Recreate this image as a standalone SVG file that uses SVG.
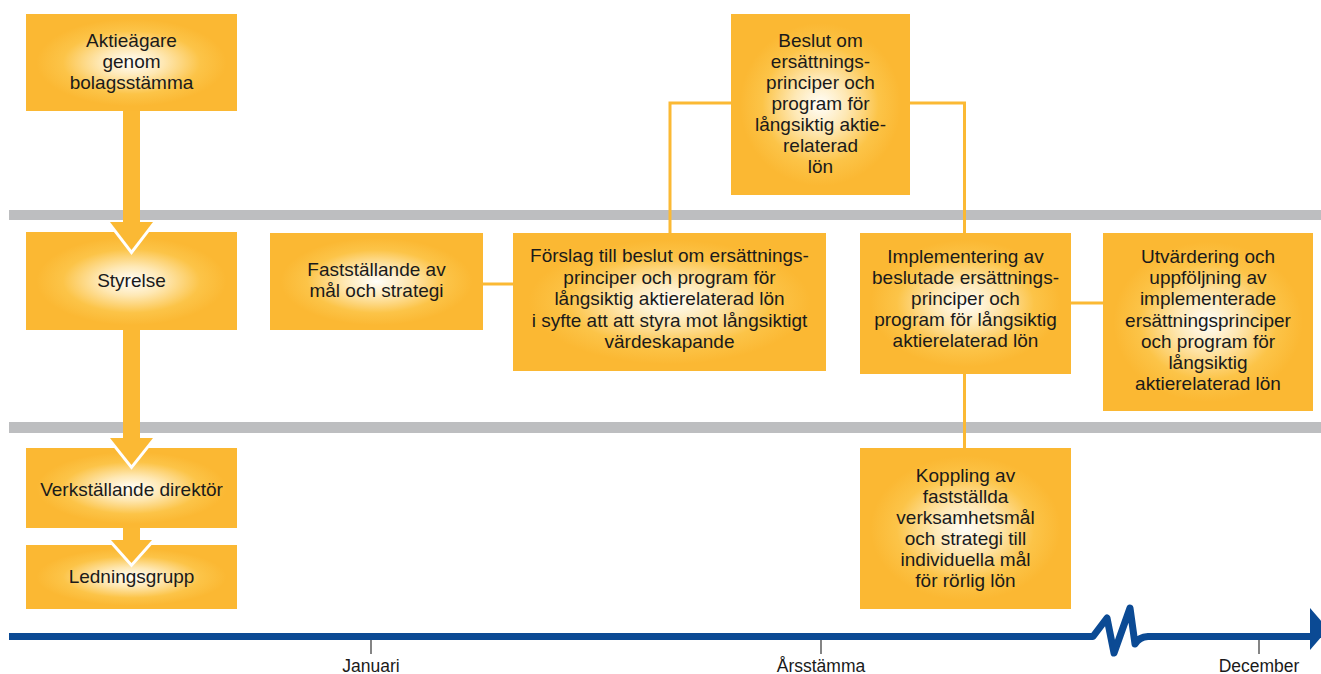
<svg xmlns="http://www.w3.org/2000/svg" width="1321" height="674" viewBox="0 0 1321 674">
  <defs>
    <radialGradient id="boxFill" cx="0.5" cy="0.5" r="0.5">
      <stop offset="0" stop-color="#fffefa"/>
      <stop offset="0.3" stop-color="#fee8b4"/>
      <stop offset="0.65" stop-color="#fcc448"/>
      <stop offset="0.9" stop-color="#fbb833"/>
      <stop offset="1" stop-color="#fbb833"/>
    </radialGradient>
    <style>
      .box { fill: url(#boxFill); }
      .t { font-family: "Liberation Sans", Arial, sans-serif; font-size: 19px; fill: #1a1a1a; text-anchor: middle; }
      .tl { font-family: "Liberation Sans", Arial, sans-serif; font-size: 17.5px; fill: #1a1a1a; text-anchor: middle; }
      .band { fill: #bdbec0; }
      .link { fill: none; stroke: #fbb934; stroke-width: 3; }
      .fat { fill: #fbb934; }
      .halo { fill: none; stroke: #ffffff; stroke-width: 6; stroke-linejoin: miter; }
      .tick { stroke: #333333; stroke-width: 1.2; }
    </style>
  </defs>

  <g id="bands">
    <rect class="band" x="9" y="210" width="1312" height="10"/>
    <rect class="band" x="9" y="422" width="1312" height="11"/>
  </g>

  <g id="timeline">
    <path d="M9,636.5 H1093 L1107,618 L1114,653 L1130,608 L1135,644 Q1139,637 1148,636.5 H1312" fill="none" stroke="#0b4a94" stroke-width="7" stroke-linejoin="round"/>
    <polygon points="1310,608 1328,629 1310,650" fill="#0b4a94"/>
    <line class="tick" x1="371" y1="640" x2="371" y2="654"/>
    <line class="tick" x1="821" y1="640" x2="821" y2="654"/>
    <line class="tick" x1="1259" y1="640" x2="1259" y2="654"/>
    <text class="tl" x="371" y="672">Januari</text>
    <text class="tl" x="821" y="672">Årsstämma</text>
    <text class="tl" x="1259" y="672">December</text>
  </g>

  <g id="n-aktieagare">
    <rect class="box" x="26" y="14" width="211" height="97"/>
    <text class="t" x="131.5" y="47">Aktieägare</text>
    <text class="t" x="131.5" y="68">genom</text>
    <text class="t" x="131.5" y="89">bolagsstämma</text>
  </g>
  <g id="n-styrelse">
    <rect class="box" x="26" y="232" width="211" height="98"/>
    <text class="t" x="131.5" y="287">Styrelse</text>
  </g>
  <g id="n-vd">
    <rect class="box" x="26" y="448" width="211" height="80"/>
    <text class="t" x="131.5" y="496">Verkställande direktör</text>
  </g>
  <g id="n-ledningsgrupp">
    <rect class="box" x="26" y="545" width="211" height="64"/>
    <text class="t" x="131.5" y="583">Ledningsgrupp</text>
  </g>
  <g id="n-faststallande">
    <rect class="box" x="270" y="233" width="213" height="97"/>
    <text class="t" x="376.5" y="276">Fastställande av</text>
    <text class="t" x="376.5" y="297">mål och strategi</text>
  </g>
  <g id="n-forslag">
    <rect class="box" x="513" y="233" width="313" height="138"/>
    <text class="t" x="669.5" y="262">Förslag till beslut om ersättnings-</text>
    <text class="t" x="669.5" y="283.5">principer och program för</text>
    <text class="t" x="669.5" y="305">långsiktig aktierelaterad lön</text>
    <text class="t" x="669.5" y="326.5">i syfte att att styra mot långsiktigt</text>
    <text class="t" x="669.5" y="348">värdeskapande</text>
  </g>
  <g id="n-beslut">
    <rect class="box" x="731" y="14" width="179" height="181"/>
    <text class="t" x="820.5" y="47">Beslut om</text>
    <text class="t" x="820.5" y="68">ersättnings-</text>
    <text class="t" x="820.5" y="89">principer och</text>
    <text class="t" x="820.5" y="110">program för</text>
    <text class="t" x="820.5" y="131">långsiktig aktie-</text>
    <text class="t" x="820.5" y="152">relaterad</text>
    <text class="t" x="820.5" y="173">lön</text>
  </g>
  <g id="n-implementering">
    <rect class="box" x="860" y="233" width="211" height="141"/>
    <text class="t" x="965.5" y="263">Implementering av</text>
    <text class="t" x="965.5" y="284">beslutade ersättnings-</text>
    <text class="t" x="965.5" y="305">principer och</text>
    <text class="t" x="965.5" y="326">program för långsiktig</text>
    <text class="t" x="965.5" y="347">aktierelaterad lön</text>
  </g>
  <g id="n-utvardering">
    <rect class="box" x="1103" y="233" width="210" height="178"/>
    <text class="t" x="1208" y="263">Utvärdering och</text>
    <text class="t" x="1208" y="284">uppföljning av</text>
    <text class="t" x="1208" y="305">implementerade</text>
    <text class="t" x="1208" y="326.5">ersättningsprinciper</text>
    <text class="t" x="1208" y="348">och program för</text>
    <text class="t" x="1208" y="369">långsiktig</text>
    <text class="t" x="1208" y="390">aktierelaterad lön</text>
  </g>
  <g id="n-koppling">
    <rect class="box" x="860" y="448" width="211" height="161"/>
    <text class="t" x="965.5" y="482">Koppling av</text>
    <text class="t" x="965.5" y="503">fastställda</text>
    <text class="t" x="965.5" y="524">verksamhetsmål</text>
    <text class="t" x="965.5" y="545">och strategi till</text>
    <text class="t" x="965.5" y="566">individuella mål</text>
    <text class="t" x="965.5" y="587">för rörlig lön</text>
  </g>

  <g id="connectors">
    <path class="link" d="M483,284 H513"/>
    <path class="link" d="M731,103 H670 V233"/>
    <path class="link" d="M910,103 H964.5 V233"/>
    <path class="link" d="M1071,303 H1103"/>
    <path class="link" d="M964.5,374 V448"/>

    <rect class="fat" x="123" y="111" width="17" height="112"/>
    <polyline class="halo" points="110,222 131.5,250 153,222"/>
    <polygon class="fat" points="110,222 131.5,250 153,222"/>

    <rect class="fat" x="123" y="330" width="17" height="109"/>
    <polyline class="halo" points="110,438 131.5,465 153,438"/>
    <polygon class="fat" points="110,438 131.5,465 153,438"/>

    <rect class="fat" x="123" y="528" width="17" height="13"/>
    <polyline class="halo" points="111,540 131.5,563 152,540"/>
    <polygon class="fat" points="111,540 131.5,563 152,540"/>
  </g>
</svg>
